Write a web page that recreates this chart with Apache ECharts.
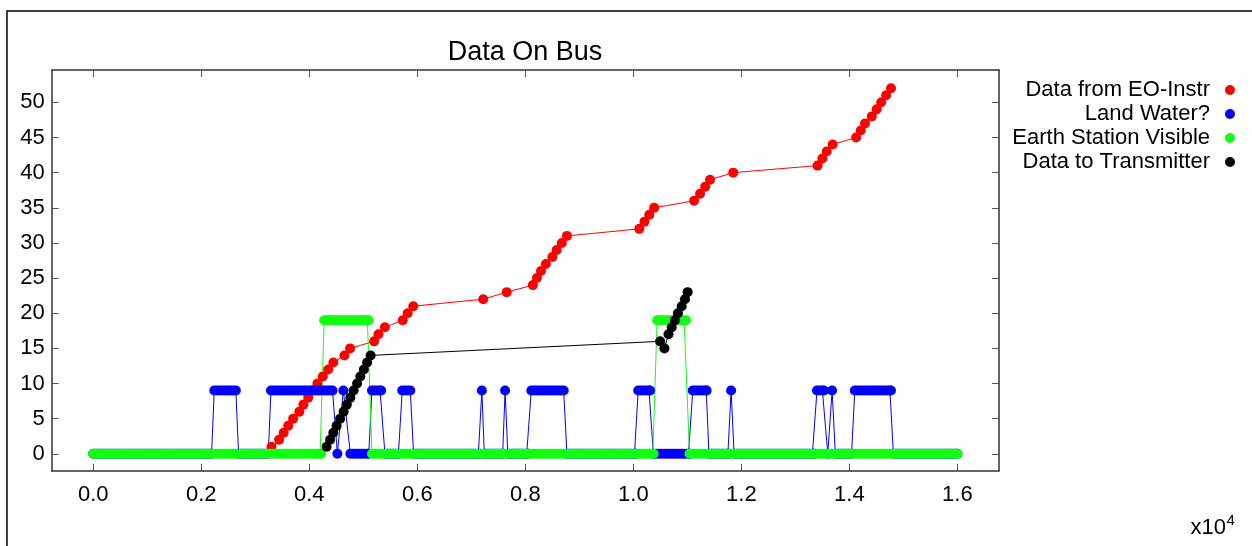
<!DOCTYPE html>
<html>
<head>
<meta charset="utf-8">
<title>Data On Bus</title>
<script src="https://cdn.jsdelivr.net/npm/echarts@6.0.0/dist/echarts.min.js"></script>
<style>
  html, body { margin: 0; padding: 0; background: #fff; }
  #chart { width: 1252px; height: 546px; }
</style>
</head>
<body>
<div id="chart"></div>
<script>
// series names (legend order = draw order)
const seriesNames = ["Data from EO-Instr", "Land Water?", "Earth Station Visible", "Data to Transmitter"];
const seriesColors = ["#ff0000", "#0000ff", "#10ff10", "#000000"];

// Data from EO-Instr: one point per increment
const eoTime = [3300, 3440, 3525, 3610, 3700, 3815, 3890, 3980, 4060, 4150, 4250, 4350, 4445, 4650, 4755,
  5200, 5280, 5400, 5730, 5820, 5925, 7220, 7655, 8140, 8215, 8290, 8380, 8500, 8580, 8675, 8770,
  10110, 10205, 10295, 10385, 11125, 11235, 11330, 11420, 11850, 13410, 13500, 13580, 13690,
  14125, 14210, 14290, 14415, 14505, 14590, 14680, 14770];
const eoValue = [1, 2, 3, 4, 5, 6, 7, 8, 9, 10, 11, 12, 13, 14, 15, 16, 17, 18, 19, 20, 21, 22, 23, 24, 25, 26,
  27, 28, 29, 30, 31, 32, 33, 34, 35, 36, 37, 38, 39, 40, 41, 42, 43, 44, 45, 46, 47, 48, 49, 50, 51, 52];

// Data to Transmitter
const txTime = [4320, 4385, 4445, 4505, 4570, 4635, 4695, 4760, 4820, 4885, 4945, 5010, 5070, 5135,
  10495, 10575, 10650, 10710, 10770, 10825, 10895, 10955, 11005];
const txValue = [1, 2, 3, 4, 5, 6, 7, 8, 9, 10, 11, 12, 13, 14, 16, 15, 17, 18, 19, 20, 21, 22, 23];

// Land Water? : [from, to, level] runs, sampled densely (dots merge into bands)
const landRuns = [
  [0, 2190, 0], [2240, 2640, 9], [2690, 3240, 0], [3290, 4430, 9], [4520, 4520, 0], [4630, 4630, 9],
  [4760, 5100, 0], [5160, 5330, 9], [5400, 5660, 0], [5720, 5870, 9], [5930, 7160, 0], [7195, 7195, 9],
  [7240, 7580, 0], [7625, 7625, 9], [7675, 8060, 0], [8110, 8710, 9], [8770, 10050, 0], [10090, 10310, 9],
  [10370, 11050, 0], [11100, 11355, 9], [11400, 11760, 0], [11810, 11810, 9], [11865, 13345, 0],
  [13400, 13530, 9], [13600, 13600, 0], [13680, 13680, 9], [13740, 14040, 0], [14100, 14770, 9],
  [14815, 16000, 0]
];

// Earth Station Visible runs
const stationRuns = [
  [0, 4220, 0], [4275, 5100, 19], [5160, 10375, 0], [10440, 10975, 19], [11040, 16000, 0]
];
const sampleStep = 50;

// axis ticks
const xTicks = [0, 2000, 4000, 6000, 8000, 10000, 12000, 14000, 16000];
const yTicks = [0, 5, 10, 15, 20, 25, 30, 35, 40, 45, 50];

function pairs(xs, ys) {
  return xs.map((x, i) => [x, ys[i]]);
}

function expandRuns(runs) {
  let pts = [];
  runs.forEach(r => {
    for (let t = r[0]; t < r[1]; t += sampleStep) pts.push([t, r[2]]);
    pts.push([r[1], r[2]]);
  });
  return pts;
}

const fontFamily = "'Liberation Sans', Arial, Helvetica, sans-serif";

function xAxisDef(pos, showLabel) {
  return {
    type: "value",
    position: pos,
    min: -770,
    max: 16770,
    axisLine: { onZero: false, lineStyle: { color: "#333", width: 1.5 } },
    axisTick: { inside: true, length: 7, customValues: xTicks, lineStyle: { color: "#555", width: 1 } },
    axisLabel: {
      show: showLabel,
      customValues: xTicks,
      margin: 13,
      color: "#000",
      fontSize: 22,
      fontFamily: fontFamily,
      formatter: v => (v / 10000).toFixed(1)
    },
    splitLine: { show: false }
  };
}

function yAxisDef(pos, showLabel) {
  return {
    type: "value",
    position: pos,
    min: -2.4,
    max: 54.6,
    axisLine: { onZero: false, lineStyle: { color: "#333", width: 1.5 } },
    axisTick: { inside: true, length: 7, customValues: yTicks, lineStyle: { color: "#555", width: 1 } },
    axisLabel: {
      show: showLabel,
      customValues: yTicks,
      margin: 7,
      color: "#000",
      fontSize: 22,
      fontFamily: fontFamily
    },
    splitLine: { show: false }
  };
}

const seriesData = [
  pairs(eoTime, eoValue),
  expandRuns(landRuns),
  expandRuns(stationRuns),
  pairs(txTime, txValue)
];

let option = {
  animation: false,
  backgroundColor: "#fff",
  grid: { left: 51.7, right: 253, top: 70, bottom: 75.3, containLabel: false },
  xAxis: [xAxisDef("bottom", true), xAxisDef("top", false)],
  yAxis: [yAxisDef("left", true), yAxisDef("right", false)],
  // one legend per entry so every row is right aligned
  legend: seriesNames.map((name, i) => ({
    data: [name],
    orient: "vertical",
    right: 17,
    top: 79 + i * 24,
    padding: 0,
    icon: "circle",
    itemWidth: 30,
    itemHeight: 10,
    align: "right",
    selectedMode: false,
    textStyle: { fontSize: 22, color: "#000", fontFamily: fontFamily }
  })),
  graphic: [
    {
      type: "rect",
      silent: true,
      z: -10,
      shape: { x: 7, y: 11, width: 1400, height: 700 },
      style: { fill: "transparent", stroke: "#000", lineWidth: 1.5 }
    },
    {
      type: "text",
      silent: true,
      style: { text: "Data On Bus", x: 525, y: 52.5, align: "center", verticalAlign: "middle",
        fill: "#000", font: "27px " + fontFamily }
    },
    {
      type: "text",
      silent: true,
      style: { text: "x10", x: 1226, y: 528, align: "right", verticalAlign: "middle",
        fill: "#000", font: "22px " + fontFamily }
    },
    {
      type: "text",
      silent: true,
      style: { text: "4", x: 1226.5, y: 520.5, align: "left", verticalAlign: "middle",
        fill: "#000", font: "15px " + fontFamily }
    }
  ],
  series: seriesData.map((d, i) => ({
    name: seriesNames[i],
    type: "line",
    data: d,
    symbol: "circle",
    symbolSize: 10,
    showSymbol: true,
    lineStyle: { width: 1, color: seriesColors[i] },
    itemStyle: { color: seriesColors[i] },
    emphasis: { disabled: true }
  }))
};

let myChart = echarts.init(document.getElementById("chart"));
myChart.setOption(option);
</script>
</body>
</html>
